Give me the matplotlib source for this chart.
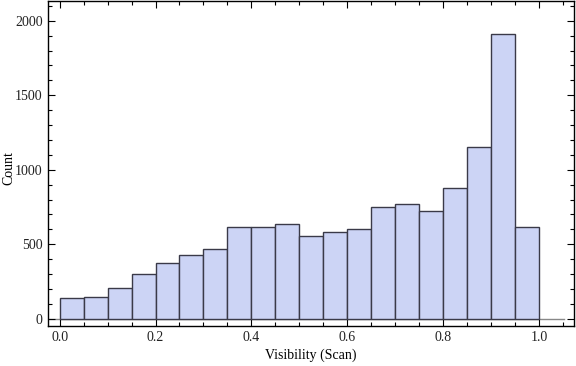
import numpy as np
import matplotlib.pyplot as plt
from matplotlib.ticker import MultipleLocator

plt.rcParams['font.family'] = ['Liberation Serif', 'DejaVu Serif']

# histogram of visibility, bins of width 0.05
bin_edges = [0.0, 0.05, 0.1, 0.15, 0.2, 0.25, 0.3, 0.35, 0.4, 0.45, 0.5,
             0.55, 0.6, 0.65, 0.7, 0.75, 0.8, 0.85, 0.9, 0.95, 1.0]
counts = [140, 147, 207, 301, 375, 428, 468, 615, 615, 635,
          555, 582, 602, 749, 769, 722, 876, 1151, 1913, 615]
xticks = [0.0, 0.2, 0.4, 0.6, 0.8, 1.0]
yticks = [0, 500, 1000, 1500, 2000]

fig = plt.figure(figsize=(5.76, 3.66), dpi=100)
ax = fig.add_axes([48.3/576, 40.5/366, 525.7/576, 325/366])

edges = np.array(bin_edges)
ax.bar(edges[:-1], counts, width=np.diff(edges), align='edge',
       color='#CCD4F5', edgecolor='#3a3a48', linewidth=1.0, zorder=2)

# axis line at zero, Mathematica style
ax.plot([-0.03, 1.051], [0, 0], color='#888888', lw=1.0, zorder=1)

ax.set_xlim(-0.0235, 1.0725)
ax.set_ylim(-45, 2136)

ax.set_xticks(xticks)
ax.set_xticklabels(['%.1f' % v for v in xticks])
ax.set_yticks(yticks)
ax.xaxis.set_minor_locator(MultipleLocator(0.05))
ax.yaxis.set_minor_locator(MultipleLocator(100))

ax.tick_params(which='both', direction='in', top=True, right=True,
               labelsize=10, colors='black', labelcolor='#222222', width=0.8)
ax.tick_params(which='major', length=5, pad=4)
ax.tick_params(which='minor', length=3)
for s in ax.spines.values():
    s.set_linewidth(1.0)

ax.set_xlabel('Visibility (Scan)', fontsize=10)
ax.set_ylabel('Count', fontsize=10)
ax.xaxis.label.set_va('center')
ax.yaxis.label.set_va('center')
ax.xaxis.set_label_coords(0.5, (325.5 - 355) / 325)
ax.yaxis.set_label_coords((9 - 48.3) / 525.7, (325.5 - 168) / 325)

fig.savefig('out.png', dpi=100)
